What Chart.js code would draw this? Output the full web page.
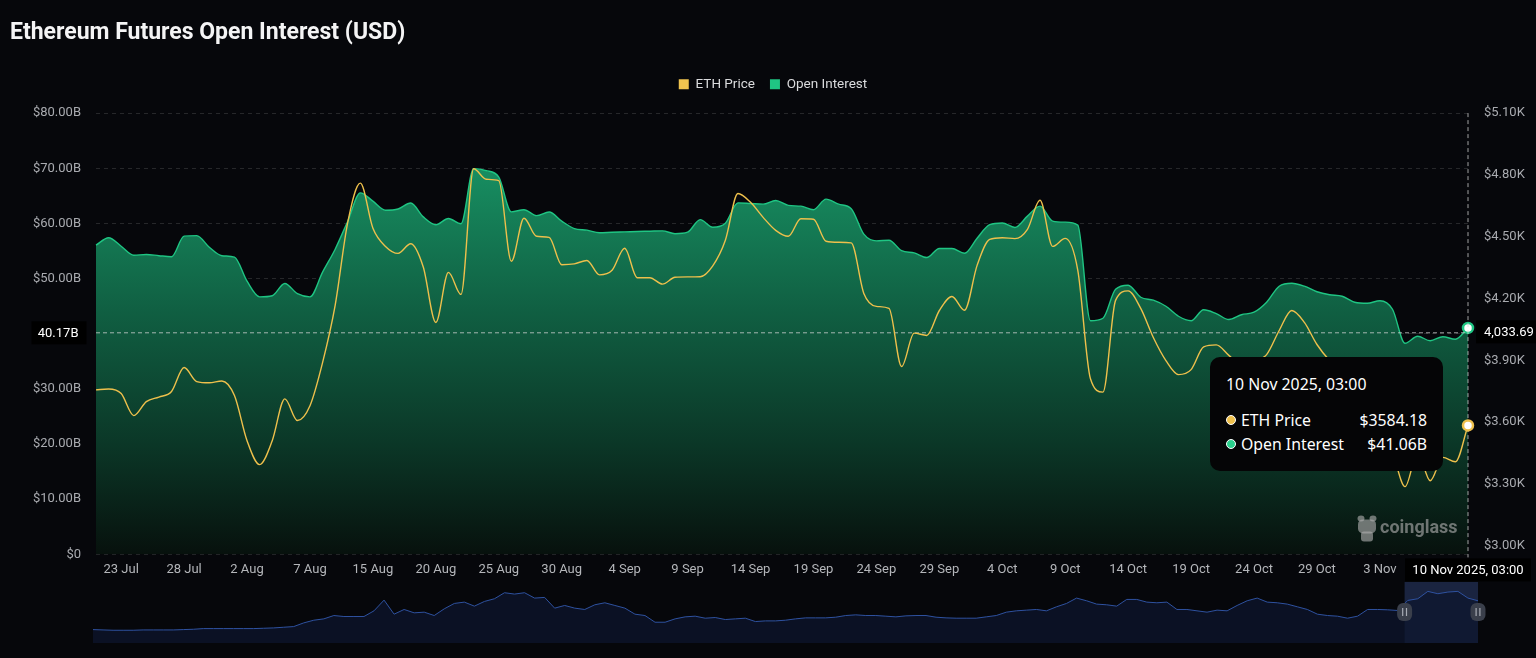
<!DOCTYPE html>
<html>
<head>
<meta charset="utf-8">
<script src="https://cdn.jsdelivr.net/npm/chart.js@4.4.1/dist/chart.umd.min.js"></script>
<style>
  html, body { margin: 0; padding: 0; background: #06070b; }
  body { width: 1536px; height: 658px; position: relative; overflow: hidden; }
  #mainWrap { position: absolute; left: 0; top: 0; width: 1536px; height: 586px; }
  #miniWrap { position: absolute; left: 0; top: 582px; width: 1536px; height: 61px; }
  #tip { position: absolute; display: none; width: 233px; box-sizing: border-box; padding: 17px 16px 15px 16px;
         background: #050506; border-radius: 10px; color: #fff; font-family: 'Noto Sans', sans-serif; font-size: 15.8px; }
  #tip .ttl { line-height: 20px; margin-bottom: 14px; }
  #tip .row { display: flex; align-items: center; line-height: 24px; }
  #tip .dot { width: 8px; height: 8px; border-radius: 50%; border: 1.5px solid #fff; margin-right: 5px; }
  #tip .val { margin-left: auto; }
</style>
</head>
<body>
<div id="miniWrap"><canvas id="mini"></canvas></div>
<div id="mainWrap"><canvas id="main"></canvas></div>
<div id="tip"></div>
<script>
// daily points; the source skips 8-10 Aug
const spans = [['2025-07-21', 18], ['2025-08-11', 92]];
const months = ['Jan','Feb','Mar','Apr','May','Jun','Jul','Aug','Sep','Oct','Nov','Dec'];
const categories = [];
spans.forEach(([start, n]) => {
  const d0 = new Date(start + 'T00:00:00Z');
  for (let k = 0; k < n; k++) {
    const d = new Date(d0.getTime() + k * 86400000);
    categories.push(d.getUTCDate() + ' ' + months[d.getUTCMonth()] + ' ' + d.getUTCFullYear() + ', 03:00');
  }
});

const tickLabels = ['23 Jul','28 Jul','2 Aug','7 Aug','15 Aug','20 Aug','25 Aug','30 Aug','4 Sep','9 Sep',
  '14 Sep','19 Sep','24 Sep','29 Sep','4 Oct','9 Oct','14 Oct','19 Oct','24 Oct','29 Oct','3 Nov'];

const ethPrice = [3757,3761,3739,3632,3700,3722,3749,3865,3797,3791,
  3800,3729,3510,3394,3510,3713,3608,3680,3889,4167,
  4570,4760,4541,4453,4419,4466,4353,4084,4327,4220,
  4830,4779,4772,4381,4590,4502,4497,4364,4368,4385,
  4315,4337,4444,4301,4301,4270,4303,4305,4306,4359,
  4483,4710,4667,4594,4531,4502,4587,4585,4478,4473,
  4470,4225,4162,4152,3870,4032,4021,4142,4210,4143,
  4361,4487,4495,4491,4536,4677,4453,4492,4337,3812,
  3746,4191,4237,4152,4011,3899,3831,3855,3965,3975,
  3924,3875,3899,3928,4045,4142,4084,3977,3899,3841,
  3773,3680,3559,3452,3287,3452,3316,3429,3408,3584.18];

const openInterest = [56.05,57.41,55.87,54.24,54.37,54.15,53.97,57.69,57.78,55.69,
  54.15,53.88,49.52,46.68,46.89,49.11,47.26,46.68,51.16,55.33,
  60.41,65.54,64.04,62.40,62.62,63.71,61.19,59.77,60.90,59.95,
  69.93,69.57,68.39,62.10,62.49,61.41,62.08,60.41,59.07,58.78,
  58.30,58.41,58.47,58.54,58.59,58.65,58.14,58.41,60.68,59.32,
  60.05,63.73,63.62,63.49,64.16,63.27,63.13,62.49,64.40,63.49,
  62.68,58.05,56.84,56.96,55.06,54.66,53.82,55.46,55.46,54.60,
  57.32,59.77,60.08,59.27,61.32,63.13,60.41,60.23,59.68,42.36,
  42.81,48.07,48.80,46.62,46.08,44.99,43.17,42.36,44.35,43.66,
  42.58,43.45,43.90,45.71,48.62,49.16,48.62,47.62,47.07,46.80,
  45.71,45.53,45.99,44.44,38.28,39.55,38.73,39.46,39.00,41.06];

const leftTicks = [0, 10, 20, 30, 40, 50, 60, 70, 80];
const rightTicks = [3000, 3300, 3600, 3900, 4200, 4500, 4800, 5100];

// overview strip under the chart (relative height)
const overview = [40,39,38,38,38,39,39,39,39,40,
  41,43,43,43,43,43,43,44,45,47,
  49,60,68,72,82,79,79,79,96,128,
  86,100,90,92,82,102,118,122,110,124,
  132,150,146,150,134,136,104,112,104,100,
  114,120,112,104,86,82,62,62,72,78,
  80,74,76,70,72,74,64,66,66,68,
  72,75,75,75,77,82,84,82,82,80,
  78,81,82,82,77,75,74,74,74,78,
  82,92,96,98,100,96,108,118,134,126,
  116,114,110,130,130,122,120,122,100,100,
  96,92,98,96,112,126,134,122,120,116,
  108,100,86,82,80,74,80,100,100,99,
  97,127,132,154,147,152,154,134,126];

const cursorOI = 40.17;
const last = categories.length - 1;
const ETH_COLOR = '#eec04c';
const OI_COLOR = '#1fc583';

Chart.defaults.font.family = 'Roboto';
Chart.defaults.color = '#a9abb0';

const shortLabel = s => s.split(' ').slice(0, 2).join(' ');

const legendGap = {
  id: 'legendGap',
  beforeLayout(chart) {
    if (chart.legend && !chart.legend._gapped) {
      const fit = chart.legend.fit;
      chart.legend.fit = function () { fit.call(this); this.height += 12; };
      chart.legend._gapped = true;
    }
  }
};

const watermark = {
  id: 'watermark',
  afterDatasetsDraw(chart) {
    const { ctx, chartArea: a } = chart;
    const x = a.right - 88, y = a.bottom - 27;
    ctx.save();
    ctx.fillStyle = 'rgba(175,175,175,0.62)';
    ctx.beginPath();
    ctx.ellipse(x - 19, y - 9, 3.5, 3, 0, 0, Math.PI * 2);
    ctx.ellipse(x - 7, y - 9, 3.5, 3, 0, 0, Math.PI * 2);
    ctx.fill();
    ctx.beginPath();
    ctx.roundRect(x - 22, y - 8, 18, 14, 5);
    ctx.fill();
    ctx.beginPath();
    ctx.roundRect(x - 19, y + 4, 12, 10, 3);
    ctx.fill();
    ctx.font = 'bold 18px Roboto';
    ctx.textBaseline = 'middle';
    ctx.fillText('coinglass', x, y + 1);
    ctx.restore();
  }
};

function labelBox(ctx, text, cx, cy, w, align) {
  ctx.fillStyle = '#000';
  ctx.fillRect(cx - w / 2, cy - 11.5, w, 23);
  ctx.fillStyle = '#fff';
  ctx.font = '13px Roboto';
  ctx.textBaseline = 'middle';
  ctx.textAlign = align;
  const tx = align === 'right' ? cx + w / 2 - 8 : align === 'left' ? cx - w / 2 + 8 : cx;
  ctx.fillText(text, tx, cy + 0.5);
}

const crosshair = {
  id: 'crosshair',
  beforeDatasetDraw(chart, args) {
    if (args.index !== 0) return;
    const { ctx, chartArea: a, scales } = chart;
    const x = scales.x.getPixelForValue(last);
    const y = scales.y.getPixelForValue(cursorOI);
    ctx.save();
    ctx.setLineDash([4, 3]);
    ctx.strokeStyle = 'rgba(215,215,215,0.75)';
    ctx.lineWidth = 1;
    ctx.beginPath();
    ctx.moveTo(a.left, y); ctx.lineTo(a.right, y);
    ctx.moveTo(x, a.top); ctx.lineTo(x, a.bottom + 3);
    ctx.stroke();
    ctx.restore();
  },
  afterDraw(chart) {
    const { ctx, chartArea: a, scales } = chart;
    const x = scales.x.getPixelForValue(last);
    const y = scales.y.getPixelForValue(cursorOI);
    const rightVal = scales.y1.getValueForPixel(y);
    ctx.save();
    labelBox(ctx, cursorOI.toFixed(2) + 'B', a.left - 37, y, 55, 'right');
    labelBox(ctx, rightVal.toLocaleString('en-US', { minimumFractionDigits: 2, maximumFractionDigits: 2 }),
      a.right + 39, y - 1, 62, 'left');
    ctx.fillStyle = '#000';
    ctx.fillRect(x - 63, a.bottom + 4, 126, 23);
    ctx.fillStyle = '#fff';
    ctx.font = '13px Roboto';
    ctx.textAlign = 'center';
    ctx.textBaseline = 'middle';
    ctx.fillText(categories[last], x, a.bottom + 16);
    ctx.restore();
  }
};

function fillGradient(context) {
  const a = context.chart.chartArea;
  if (!a) return 'rgba(20,130,90,0.8)';
  const g = context.chart.ctx.createLinearGradient(0, a.top, 0, a.bottom);
  g.addColorStop(0, '#1aa06d');
  g.addColorStop(0.45, '#105f42');
  g.addColorStop(0.75, '#0b3727');
  g.addColorStop(1, '#07110d');
  return g;
}

function externalTip(context) {
  const { chart, tooltip } = context;
  const el = document.getElementById('tip');
  if (tooltip.opacity === 0 || !tooltip.dataPoints || !tooltip.dataPoints.length) { el.style.display = 'none'; return; }
  const colors = [ETH_COLOR, '#2ad08c'];
  let html = '<div class="ttl">' + tooltip.title[0] + '</div>';
  tooltip.dataPoints.forEach(p => {
    const v = p.raw;
    const txt = p.datasetIndex === 0 ? '$' + v.toFixed(2) : '$' + v.toFixed(2) + 'B';
    html += '<div class="row"><span class="dot" style="background:' + colors[p.datasetIndex] + '"></span>' +
      '<span>' + p.dataset.label + '</span><span class="val">' + txt + '</span></div>';
  });
  el.innerHTML = html;
  el.style.display = 'block';
  const px = tooltip.dataPoints[0].element.x;
  const cy = chart.scales.y.getPixelForValue(cursorOI);
  el.style.left = (px - 25 - 233) + 'px';
  el.style.top = (cy + 24) + 'px';
}

const lastDot = ctx => ctx.dataIndex === last ? 5 : 0;

const chart = new Chart(document.getElementById('main'), {
  type: 'line',
  data: {
    labels: categories,
    datasets: [
      {
        label: 'ETH Price',
        data: ethPrice,
        yAxisID: 'y1',
        borderColor: ETH_COLOR,
        borderWidth: 1.4,
        cubicInterpolationMode: 'monotone',
        fill: false,
        pointRadius: lastDot,
        pointBackgroundColor: '#fff',
        pointBorderColor: ETH_COLOR,
        pointBorderWidth: 2.5,
        clip: false
      },
      {
        label: 'Open Interest',
        data: openInterest,
        yAxisID: 'y',
        borderColor: OI_COLOR,
        borderWidth: 1.4,
        cubicInterpolationMode: 'monotone',
        fill: 'origin',
        backgroundColor: fillGradient,
        pointRadius: lastDot,
        pointBackgroundColor: '#fff',
        pointBorderColor: OI_COLOR,
        pointBorderWidth: 2.5,
        clip: false
      }
    ]
  },
  options: {
    responsive: true,
    maintainAspectRatio: false,
    animation: false,
    events: [],
    layout: { padding: { left: 10, right: 0, top: 0, bottom: 0 } },
    scales: {
      x: {
        offset: false,
        grid: { display: false, drawTicks: false },
        border: { display: false },
        ticks: {
          autoSkip: false, maxRotation: 0, minRotation: 0, padding: 8,
          font: { size: 13 }, color: '#b4b6ba',
          callback: function (value, index) {
            const s = shortLabel(this.getLabelForValue(value));
            return index !== last && tickLabels.includes(s) ? s : '';
          }
        }
      },
      y: {
        position: 'left',
        min: 0, max: 80,
        afterBuildTicks: s => { s.ticks = leftTicks.map(v => ({ value: v })); },
        afterFit: s => { s.width = 86; },
        grid: { color: 'rgba(255,255,255,0.13)', drawTicks: false },
        border: { display: false, dash: [4, 4] },
        ticks: {
          padding: 15, font: { size: 13 }, color: '#a9abb0',
          callback: v => v === 0 ? '$0' : '$' + v.toFixed(2) + 'B'
        }
      },
      y1: {
        position: 'right',
        min: 2958.28, max: 5100,
        afterBuildTicks: s => { s.ticks = rightTicks.map(v => ({ value: v })); },
        afterFit: s => { s.width = 68; },
        grid: { drawOnChartArea: false, drawTicks: false },
        border: { display: false },
        ticks: {
          padding: 16, font: { size: 13 }, color: '#a9abb0',
          callback: v => '$' + (v / 1000).toFixed(2) + 'K'
        }
      }
    },
    plugins: {
      title: {
        display: true,
        text: 'Ethereum Futures Open Interest (USD)',
        align: 'start',
        color: '#f4f4f5',
        font: { size: 23, weight: 'bold' },
        padding: { top: 19, bottom: 16 }
      },
      legend: {
        display: true,
        labels: {
          color: '#dadbdd', font: { size: 13.5 }, boxWidth: 10, boxHeight: 10, padding: 15,
          generateLabels: () => [
            { text: 'ETH Price', fillStyle: '#f0c44f', strokeStyle: '#f0c44f', fontColor: '#dadbdd', lineWidth: 0, datasetIndex: 0 },
            { text: 'Open Interest', fillStyle: OI_COLOR, strokeStyle: OI_COLOR, fontColor: '#dadbdd', lineWidth: 0, datasetIndex: 1 }
          ]
        }
      },
      tooltip: { enabled: false, external: externalTip }
    }
  },
  plugins: [legendGap, watermark, crosshair]
});

chart.tooltip.setActiveElements(
  [{ datasetIndex: 0, index: last }, { datasetIndex: 1, index: last }],
  { x: chart.scales.x.getPixelForValue(last), y: chart.scales.y.getPixelForValue(cursorOI) }
);

// overview strip
const miniWindow = [0.947, 1];
const stripPlugin = {
  id: 'strip',
  beforeDatasetsDraw(c) {
    const { ctx, chartArea: a } = c;
    ctx.save();
    ctx.fillStyle = '#1a2440';
    const x0 = a.left + a.width * miniWindow[0], x1 = a.left + a.width * miniWindow[1];
    ctx.fillRect(x0, a.top, x1 - x0, a.bottom - a.top);
    ctx.restore();
  },
  afterDraw(c) {
    const { ctx, chartArea: a } = c;
    ctx.save();
    miniWindow.forEach(f => {
      const cx = a.left + a.width * f;
      ctx.fillStyle = '#3a3f4b';
      ctx.beginPath();
      ctx.roundRect(cx - 7.5, 21, 15, 18, 6);
      ctx.fill();
      ctx.fillStyle = '#a7abb4';
      ctx.fillRect(cx - 2.5, 26, 1.2, 8);
      ctx.fillRect(cx + 1.3, 26, 1.2, 8);
    });
    ctx.restore();
  }
};

new Chart(document.getElementById('mini'), {
  type: 'line',
  data: {
    labels: overview.map((_, i) => i),
    datasets: [{
      data: overview,
      borderColor: '#2f52a0',
      borderWidth: 1,
      backgroundColor: 'rgba(14,22,46,0.75)',
      fill: 'origin',
      pointRadius: 0,
      tension: 0
    }]
  },
  options: {
    responsive: true,
    maintainAspectRatio: false,
    animation: false,
    events: [],
    layout: { padding: { left: 93, right: 58, top: 0, bottom: 0 } },
    scales: {
      x: { display: false, offset: false },
      y: { display: false, min: 0, max: 182 }
    },
    plugins: { legend: { display: false }, tooltip: { enabled: false } }
  },
  plugins: [stripPlugin]
});
</script>
</body>
</html>
